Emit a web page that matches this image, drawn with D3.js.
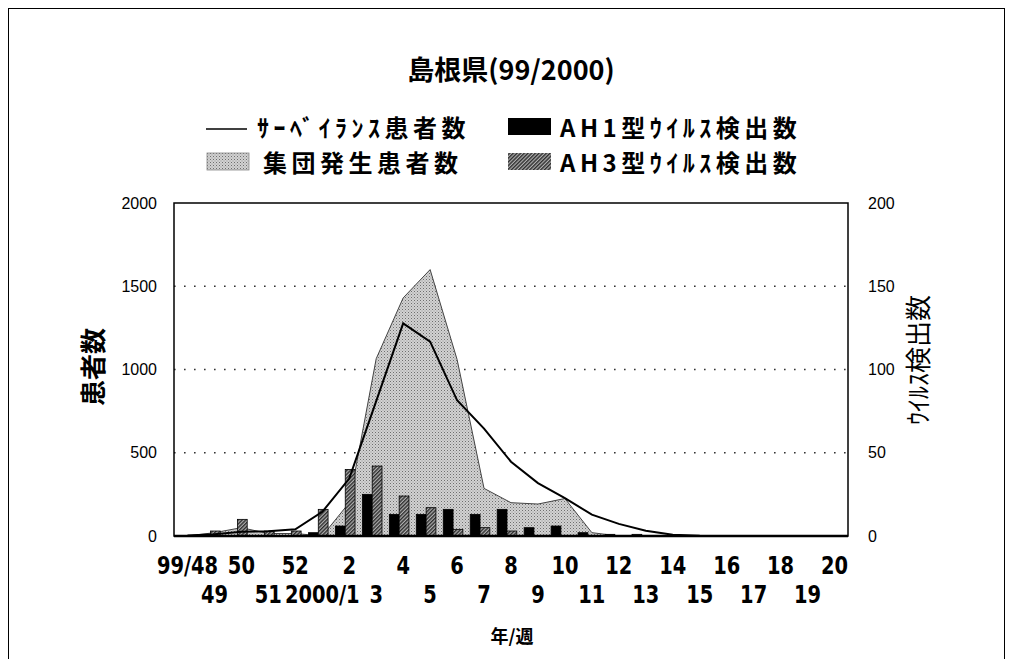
<!DOCTYPE html>
<html><head><meta charset="utf-8">
<script src="https://cdn.jsdelivr.net/npm/d3@7/dist/d3.min.js"></script>
<style>
body{margin:0;background:#fff;}
svg{display:block;}
</style></head>
<body>
<svg id="chart" width="1012" height="659"></svg>
<script>
// ---- data ----
const weeks = ["99/48","49","50","51","52","2000/1","2","3","4","5","6","7","8","9","10","11","12","13","14","15","16","17","18","19","20"];
const surveillance = [3,10,25,28,40,145,345,810,1277,1167,815,645,446,318,228,128,73,32,8,2,0,0,0,0,0];
const outbreak = [0,20,50,15,15,0,200,1065,1430,1600,1060,286,200,192,225,20,0,0,0,0,0,0,0,0,0];
const ah1 = [0,0,0,0,0,2,6,25,13,13,16,13,16,5,6,2,1,1,0,0,0,0,0,0,0];
const ah3 = [0,3,10,3,3,16,40,42,24,17,4,5,3,0,0,0,0,0,0,0,0,0,0,0,0];
const leftTicks = [0,500,1000,1500,2000];
const rightTicks = [0,50,100,150,200];
const title = "島根県(99/2000)";
const seriesNames = {line:"ｻｰﾍﾞｲﾗﾝｽ患者数", area:"集団発生患者数", ah1:"AH1型ｳｲﾙｽ検出数", ah3:"AH3型ｳｲﾙｽ検出数"};

const svg = d3.select("#chart");
const L = 174, R = 848, T = 203, B = 536;

// patterns
const defs = svg.append("defs");
const stip = defs.append("pattern").attr("id","stip").attr("patternUnits","userSpaceOnUse").attr("width",3).attr("height",3);
stip.append("rect").attr("width",3).attr("height",3).attr("fill","#d2d2d2");
stip.append("rect").attr("x",0).attr("y",0).attr("width",1).attr("height",1).attr("fill","#6e6e6e");
stip.append("rect").attr("x",1.5).attr("y",1.5).attr("width",1).attr("height",1).attr("fill","#959595");
const hat = defs.append("pattern").attr("id","hatch").attr("patternUnits","userSpaceOnUse").attr("width",2.6).attr("height",2.6).attr("patternTransform","rotate(45)");
hat.append("rect").attr("width",2.6).attr("height",2.6).attr("fill","#b0b0b0");
hat.append("rect").attr("width",1.4).attr("height",2.6).attr("fill","#2e2e2e");

// outer frame
svg.append("rect").attr("x",8.5).attr("y",8.5).attr("width",996).attr("height",700).attr("fill","none").attr("stroke","#000").attr("stroke-width",1);

// scales
const x = d3.scaleBand().domain(weeks).range([L,R]);
const cx = d => x(d) + x.bandwidth()/2;
const y = d3.scaleLinear().domain([0,2000]).range([B,T]);
const y2 = d3.scaleLinear().domain([0,200]).range([B,T]);
const x1 = d3.scaleBand().domain(["ah1","ah3"]).range([-13.8,5.8]);

// gridlines
svg.append("g").selectAll("line").data([500,1000,1500]).join("line")
  .attr("x1",L).attr("x2",R).attr("y1",d=>y(d)).attr("y2",d=>y(d))
  .attr("stroke","#333").attr("stroke-width",1.6).attr("stroke-dasharray","1.6 8.4");

// area
const area = d3.area().x((d,i)=>cx(weeks[i])).y0(B).y1(d=>y(d));
svg.append("path").datum(outbreak).attr("d",area).attr("fill","url(#stip)").attr("stroke","#444").attr("stroke-width",1);

// bars
const barData = [];
weeks.forEach((w,i)=>{
  barData.push({w, k:"ah1", v:ah1[i]});
  barData.push({w, k:"ah3", v:ah3[i]});
});
svg.append("g").selectAll("rect").data(barData.filter(d=>d.v>0)).join("rect")
  .attr("x",d=>cx(d.w)+x1(d.k)).attr("width",x1.bandwidth())
  .attr("y",d=>y2(d.v)).attr("height",d=>B-y2(d.v))
  .attr("fill",d=>d.k==="ah1"?"#000":"url(#hatch)")
  .attr("stroke","#000").attr("stroke-width",0.8);

// line
const line = d3.line().x((d,i)=>cx(weeks[i])).y(d=>y(d));
svg.append("path").datum(surveillance).attr("d",line).attr("fill","none").attr("stroke","#000").attr("stroke-width",2);

// plot border
svg.append("rect").attr("x",L).attr("y",T).attr("width",R-L).attr("height",B-T).attr("fill","none").attr("stroke","#000").attr("stroke-width",1.5);
svg.append("line").attr("x1",L).attr("x2",R).attr("y1",B).attr("y2",B).attr("stroke","#000").attr("stroke-width",2.5);

// axes
const tickFont = "'Liberation Sans', Arial, sans-serif";
const gl = svg.append("g").attr("transform",`translate(${L},0)`)
  .call(d3.axisLeft(y).tickValues(leftTicks).tickSize(0).tickPadding(17).tickFormat(d3.format("d")));
gl.select(".domain").remove();
gl.selectAll("text").attr("font-family",tickFont).attr("font-size",16).attr("fill","#000");

const gr = svg.append("g").attr("transform",`translate(${R},0)`)
  .call(d3.axisRight(y2).tickValues(rightTicks).tickSize(0).tickPadding(20).tickFormat(d3.format("d")));
gr.select(".domain").remove();
gr.selectAll("text").attr("font-family",tickFont).attr("font-size",16).attr("fill","#000");

const xFont = "'DejaVu Sans Condensed','Liberation Sans Narrow',sans-serif";
function styleX(g){
  g.select(".domain").remove();
  g.selectAll("text").attr("font-family",xFont).attr("font-weight","bold").attr("font-size",24)
    .attr("fill","#000").attr("transform","scale(0.9,1)");
}
const gx1 = svg.append("g").attr("transform",`translate(0,${B})`)
  .call(d3.axisBottom(x).tickValues(weeks.filter((d,i)=>i%2===0)).tickSize(0).tickPadding(21));
styleX(gx1);
const gx2 = svg.append("g").attr("transform",`translate(0,${B})`)
  .call(d3.axisBottom(x).tickValues(weeks.filter((d,i)=>i%2===1)).tickSize(0).tickPadding(50));
styleX(gx2);

const jp = "'Noto Sans CJK JP', sans-serif";
// axis titles
svg.append("text").attr("x",512).attr("y",643).attr("text-anchor","middle")
  .attr("font-family",jp).attr("font-weight","bold").attr("font-size",18).text("年/週");
svg.append("text").attr("transform","translate(103,367) rotate(-90)").attr("text-anchor","middle")
  .attr("font-family",jp).attr("font-weight","bold").attr("font-size",26).text("患者数");
svg.append("text").attr("transform","translate(928,360) rotate(-90)").attr("text-anchor","middle")
  .attr("font-family",jp).attr("font-size",26).text("ｳｲﾙｽ検出数");

// title
svg.append("text").attr("x",511).attr("y",80).attr("text-anchor","middle")
  .attr("font-family",jp).attr("font-weight","bold").attr("font-size",27).text(title);

// legend
const lg = svg.append("g");
const lf = 24;
function ltext(xp, yp, t, ls){
  lg.append("text").attr("x",xp).attr("y",yp).attr("font-family",jp).attr("font-weight","bold")
    .attr("font-size",lf).attr("letter-spacing",ls).text(t);
}
lg.append("line").attr("x1",206).attr("x2",247).attr("y1",129).attr("y2",129).attr("stroke","#000").attr("stroke-width",1.5);
ltext(257,137,seriesNames.line,4.5);
lg.append("rect").attr("x",508).attr("y",118).attr("width",43).attr("height",17).attr("fill","#000");
ltext(560,137,seriesNames.ah1,4.5);
lg.append("rect").attr("x",207).attr("y",153).attr("width",42).attr("height",17).attr("fill","url(#stip)").attr("stroke","#888").attr("stroke-width",0.8);
ltext(263,172,seriesNames.area,4.5);
lg.append("rect").attr("x",508).attr("y",153).attr("width",43).attr("height",17).attr("fill","url(#hatch)");
ltext(560,172,seriesNames.ah3,4.5);
</script>
</body></html>
